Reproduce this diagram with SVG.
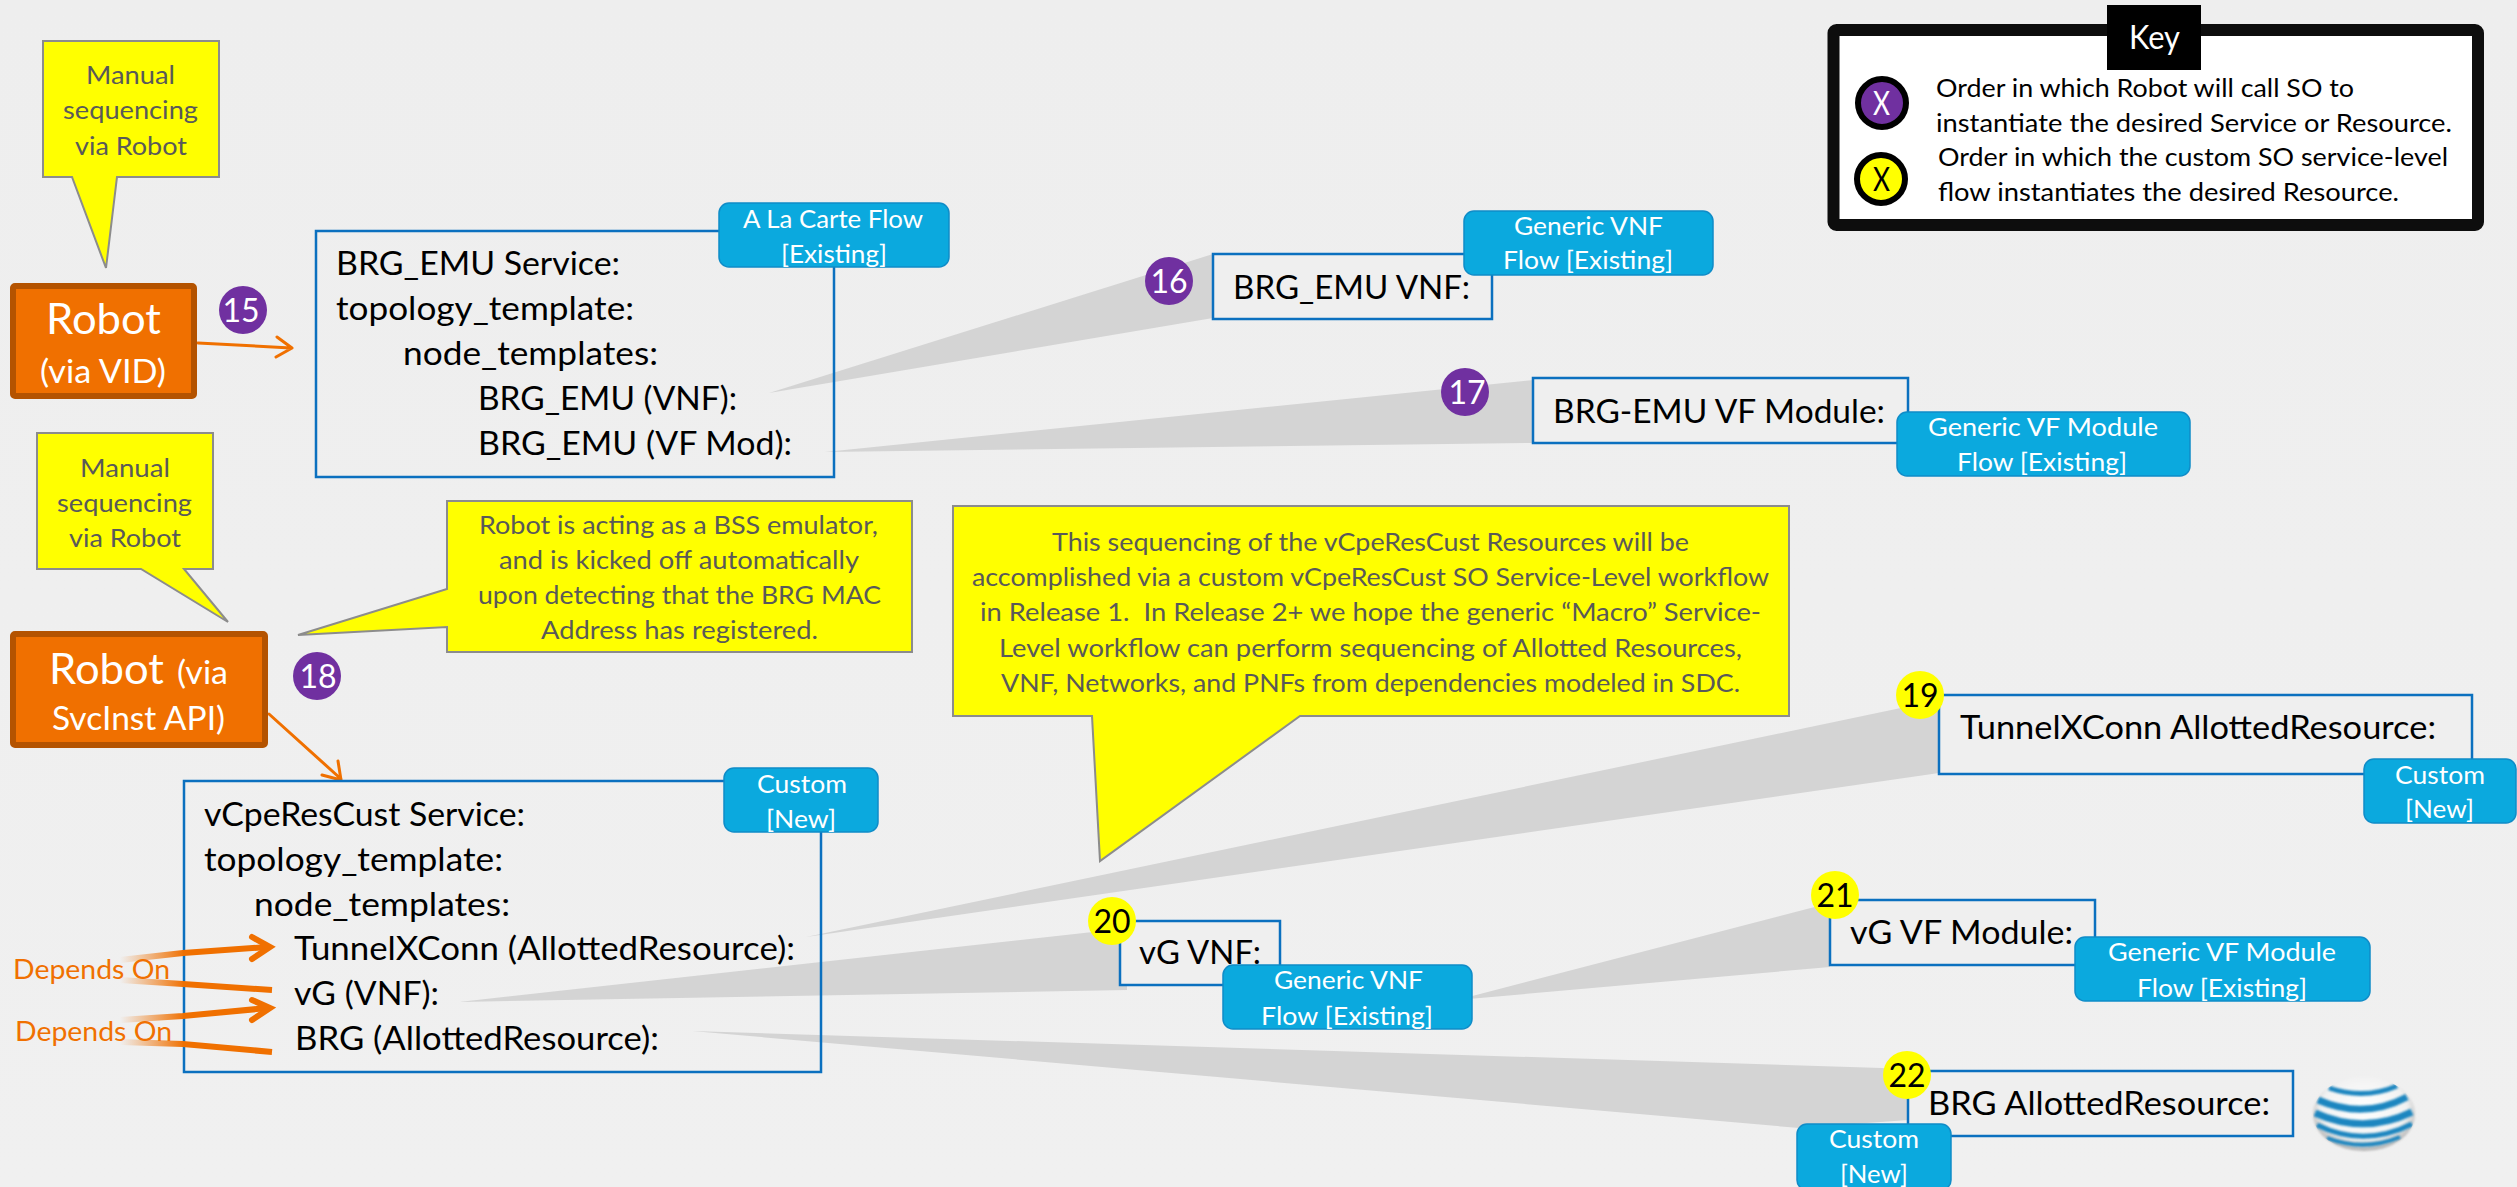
<svg xmlns="http://www.w3.org/2000/svg" width="2517" height="1187" viewBox="0 0 2517 1187">
<style>
text{font-family:Lato,"Liberation Sans",sans-serif}
.m{font-size:32px;fill:#000}
.c{font-size:25px;fill:#595959}
.t{font-size:25px;fill:#fff}
.k{font-size:25px;fill:#000}
.d{font-size:27px;fill:#F07000}
.w{fill:#D4D4D4}
.box{fill:#EFEFEF;stroke:#0B70BF;stroke-width:2.5}
.svc{fill:none;stroke:#0B70BF;stroke-width:2.5}
.tag{fill:#0BA9DE;stroke:#0F8CC8;stroke-width:1.5}
.call{fill:#FF0;stroke:#8C8C8C;stroke-width:2}
.rob{fill:#F07000;stroke:#B45300;stroke-width:6}
.pur{fill:#7030A0}
.yel{fill:#FF0}
.nw{font-size:32px;fill:#fff}
.nb{font-size:32px;fill:#000}
.arr{fill:none;stroke:#F07000;stroke-width:3;stroke-linecap:round;stroke-linejoin:round}
.dep{fill:none;stroke-width:6}
.head{fill:none;stroke:#F07000;stroke-width:6;stroke-linecap:round;stroke-linejoin:miter}
.st{fill:none;stroke:#1F86C0}
</style>
<defs>
<linearGradient id="bg" x1="0" y1="0" x2="0" y2="1"><stop offset="0" stop-color="#EEEEEE"/><stop offset="1" stop-color="#F0F0F0"/></linearGradient>
<linearGradient id="fade" gradientUnits="userSpaceOnUse" x1="120" y1="0" x2="185" y2="0"><stop offset="0" stop-color="#F07000" stop-opacity="0"/><stop offset="1" stop-color="#F07000"/></linearGradient>
<radialGradient id="globe" cx="0.5" cy="0.42" r="0.6"><stop offset="0" stop-color="#FFFFFF"/><stop offset="0.7" stop-color="#F2F2F2"/><stop offset="1" stop-color="#A8A8A8"/></radialGradient>
<clipPath id="gc"><ellipse cx="2364" cy="1114" rx="51" ry="37"/></clipPath>
<filter id="soft" x="-10%" y="-10%" width="120%" height="120%"><feGaussianBlur stdDeviation="0.8"/></filter>
</defs>
<rect width="2517" height="1187" fill="url(#bg)"/>

<g id="connectors">
<polygon class="w" points="769,393 1213,254 1213,318"/>
<polygon class="w" points="825,452 1533,380 1533,443"/>
<polygon class="w" points="806,937 1939,700 1939,773"/>
<polygon class="w" points="459,1002 1120,929 1120,980 1127,980 1127,990"/>
<polygon class="w" points="1457,1000 1830,903 1830,967"/>
<polygon class="w" points="692,1031 1882,1068 1908,1070 1908,1120 1799,1128"/>
<path class="arr" d="M198,343 L291,348 M277,337 L292,348 L276,357"/>
<path class="arr" d="M269,714 L341,779 M338,761 L341,780 L322,775"/>
</g>

<g id="callout-manual-1">
<polygon class="call" points="43,41 219,41 219,177 117,177 106,268 72,177 43,177"/>
<text class="c" x="86" y="84" textLength="89" lengthAdjust="spacingAndGlyphs">Manual</text>
<text class="c" x="63" y="119" textLength="135" lengthAdjust="spacingAndGlyphs">sequencing</text>
<text class="c" x="75" y="155" textLength="112" lengthAdjust="spacingAndGlyphs">via Robot</text>
</g>
<g id="callout-manual-2">
<polygon class="call" points="37,433 213,433 213,569 184,569 228,622 141,569 37,569"/>
<text class="c" x="80" y="477" textLength="90" lengthAdjust="spacingAndGlyphs">Manual</text>
<text class="c" x="57" y="512" textLength="135" lengthAdjust="spacingAndGlyphs">sequencing</text>
<text class="c" x="69" y="547" textLength="112" lengthAdjust="spacingAndGlyphs">via Robot</text>
</g>
<g id="callout-bss">
<polygon class="call" points="447,501 912,501 912,652 447,652 447,627 298,635 447,589"/>
<text class="c" x="479" y="534" textLength="399" lengthAdjust="spacingAndGlyphs">Robot is acting as a BSS emulator,</text>
<text class="c" x="499" y="569" textLength="360" lengthAdjust="spacingAndGlyphs">and is kicked off automatically</text>
<text class="c" x="478" y="604" textLength="403" lengthAdjust="spacingAndGlyphs">upon detecting that the BRG MAC</text>
<text class="c" x="541" y="639" textLength="277" lengthAdjust="spacingAndGlyphs">Address has registered.</text>
</g>
<g id="callout-sequencing">
<polygon class="call" points="953,506 1789,506 1789,716 1300,716 1100,861 1092,716 953,716"/>
<text class="c" x="1052" y="551" textLength="637" lengthAdjust="spacingAndGlyphs">This sequencing of the vCpeResCust Resources will be</text>
<text class="c" x="972" y="586" textLength="797" lengthAdjust="spacingAndGlyphs">accomplished via a custom vCpeResCust SO Service-Level workflow</text>
<text class="c" x="980" y="621" textLength="781" lengthAdjust="spacingAndGlyphs" xml:space="preserve">in Release 1.  In Release 2+ we hope the generic “Macro” Service-</text>
<text class="c" x="999" y="657" textLength="743" lengthAdjust="spacingAndGlyphs">Level workflow can perform sequencing of Allotted Resources,</text>
<text class="c" x="1001" y="692" textLength="739" lengthAdjust="spacingAndGlyphs">VNF, Networks, and PNFs from dependencies modeled in SDC.</text>
</g>

<g id="robot-vid">
<rect class="rob" x="13" y="286" width="181" height="110" rx="2"/>
<text x="46" y="334" font-size="42" fill="#fff" textLength="115" lengthAdjust="spacingAndGlyphs">Robot</text>
<text x="40" y="383" font-size="32" fill="#fff" textLength="126" lengthAdjust="spacingAndGlyphs">(via VID)</text>
</g>
<g id="robot-svcinst">
<rect class="rob" x="13" y="634" width="252" height="111" rx="2"/>
<text x="49" y="684" font-size="42" fill="#fff" textLength="115" lengthAdjust="spacingAndGlyphs">Robot</text>
<text x="177" y="684" font-size="32" fill="#fff" textLength="51" lengthAdjust="spacingAndGlyphs">(via</text>
<text x="52" y="730" font-size="32" fill="#fff" textLength="173" lengthAdjust="spacingAndGlyphs">SvcInst API)</text>
</g>

<g id="svc-brg-emu">
<rect class="svc" x="316" y="231" width="518" height="246"/>
<rect class="tag" x="719" y="203" width="230" height="64" rx="10"/>
<text class="t" x="743" y="228" textLength="180" lengthAdjust="spacingAndGlyphs">A La Carte Flow</text>
<text class="t" x="781" y="263" textLength="106" lengthAdjust="spacingAndGlyphs">[Existing]</text>
<text class="m" x="336" y="275" textLength="284" lengthAdjust="spacingAndGlyphs">BRG_EMU Service:</text>
<text class="m" x="336" y="320" textLength="298" lengthAdjust="spacingAndGlyphs">topology_template:</text>
<text class="m" x="403" y="365" textLength="255" lengthAdjust="spacingAndGlyphs">node_templates:</text>
<text class="m" x="478" y="410" textLength="259" lengthAdjust="spacingAndGlyphs">BRG_EMU (VNF):</text>
<text class="m" x="478" y="455" textLength="314" lengthAdjust="spacingAndGlyphs">BRG_EMU (VF Mod):</text>
</g>
<g id="svc-vcpe">
<rect class="svc" x="184" y="781" width="637" height="291"/>
<rect class="tag" x="724" y="768" width="154" height="64" rx="10"/>
<text class="t" x="757" y="793" textLength="90" lengthAdjust="spacingAndGlyphs">Custom</text>
<text class="t" x="766" y="828" textLength="70" lengthAdjust="spacingAndGlyphs">[New]</text>
<text class="m" x="204" y="826" textLength="321" lengthAdjust="spacingAndGlyphs">vCpeResCust Service:</text>
<text class="m" x="204" y="871" textLength="299" lengthAdjust="spacingAndGlyphs">topology_template:</text>
<text class="m" x="254" y="916" textLength="256" lengthAdjust="spacingAndGlyphs">node_templates:</text>
<text class="m" x="294" y="960" textLength="501" lengthAdjust="spacingAndGlyphs">TunnelXConn (AllottedResource):</text>
<text class="m" x="294" y="1005" textLength="145" lengthAdjust="spacingAndGlyphs">vG (VNF):</text>
<text class="m" x="295" y="1050" textLength="364" lengthAdjust="spacingAndGlyphs">BRG (AllottedResource):</text>
</g>

<g id="depends">
<path class="dep" stroke="url(#fade)" d="M120,960 L183,953 L268,947"/>
<path class="head" d="M252,937 L270,947 L252,959"/>
<path class="dep" stroke="url(#fade)" d="M120,980 L183,984 L272,990"/>
<path class="dep" stroke="url(#fade)" d="M120,1020 L183,1016 L268,1008"/>
<path class="head" d="M252,1000 L270,1008 L252,1020"/>
<path class="dep" stroke="url(#fade)" d="M120,1042 L183,1044 L272,1052"/>
<text class="d" x="13" y="979" textLength="157" lengthAdjust="spacingAndGlyphs">Depends On</text>
<text class="d" x="15" y="1041" textLength="157" lengthAdjust="spacingAndGlyphs">Depends On</text>
</g>

<g id="res-brg-emu-vnf">
<rect class="box" x="1213" y="254" width="279" height="65"/>
<rect class="tag" x="1464" y="211" width="249" height="64" rx="10"/>
<text class="t" x="1514" y="235" textLength="149" lengthAdjust="spacingAndGlyphs">Generic VNF</text>
<text class="t" x="1503" y="269" textLength="170" lengthAdjust="spacingAndGlyphs">Flow [Existing]</text>
<text class="m" x="1233" y="299" textLength="237" lengthAdjust="spacingAndGlyphs">BRG_EMU VNF:</text>
</g>
<g id="res-brg-emu-vf">
<rect class="box" x="1533" y="378" width="375" height="65"/>
<rect class="tag" x="1897" y="412" width="293" height="64" rx="10"/>
<text class="t" x="1928" y="436" textLength="230" lengthAdjust="spacingAndGlyphs">Generic VF Module</text>
<text class="t" x="1957" y="471" textLength="170" lengthAdjust="spacingAndGlyphs">Flow [Existing]</text>
<text class="m" x="1553" y="423" textLength="332" lengthAdjust="spacingAndGlyphs">BRG-EMU VF Module:</text>
</g>
<g id="res-tunnel">
<rect class="box" x="1939" y="695" width="533" height="79"/>
<rect class="tag" x="2364" y="759" width="152" height="64" rx="10"/>
<text class="t" x="2395" y="784" textLength="90" lengthAdjust="spacingAndGlyphs">Custom</text>
<text class="t" x="2405" y="818" textLength="69" lengthAdjust="spacingAndGlyphs">[New]</text>
<text class="m" x="1960" y="739" textLength="476" lengthAdjust="spacingAndGlyphs">TunnelXConn AllottedResource:</text>
</g>
<g id="res-vg-vnf">
<rect class="box" x="1120" y="921" width="160" height="64"/>
<text class="m" x="1139" y="964" textLength="122" lengthAdjust="spacingAndGlyphs">vG VNF:</text>
<rect class="tag" x="1223" y="965" width="249" height="64" rx="10"/>
<text class="t" x="1274" y="989" textLength="149" lengthAdjust="spacingAndGlyphs">Generic VNF</text>
<text class="t" x="1261" y="1025" textLength="172" lengthAdjust="spacingAndGlyphs">Flow [Existing]</text>
</g>
<g id="res-vg-vf">
<rect class="box" x="1830" y="900" width="265" height="65"/>
<text class="m" x="1850" y="944" textLength="223" lengthAdjust="spacingAndGlyphs">vG VF Module:</text>
<rect class="tag" x="2075" y="937" width="295" height="64" rx="10"/>
<text class="t" x="2108" y="961" textLength="228" lengthAdjust="spacingAndGlyphs">Generic VF Module</text>
<text class="t" x="2137" y="997" textLength="170" lengthAdjust="spacingAndGlyphs">Flow [Existing]</text>
</g>
<g id="res-brg">
<rect class="box" x="1908" y="1071" width="385" height="65"/>
<rect class="tag" x="1797" y="1124" width="154" height="66" rx="10"/>
<text class="t" x="1829" y="1148" textLength="90" lengthAdjust="spacingAndGlyphs">Custom</text>
<text class="t" x="1840" y="1183" textLength="68" lengthAdjust="spacingAndGlyphs">[New]</text>
<text class="m" x="1928" y="1115" textLength="342" lengthAdjust="spacingAndGlyphs">BRG AllottedResource:</text>
</g>

<g id="badge-15"><circle class="pur" cx="243" cy="310" r="24"/><text class="nw" x="241" y="322" text-anchor="middle">15</text></g>
<g id="badge-16"><circle class="pur" cx="1169" cy="281" r="24"/><text class="nw" x="1169" y="293" text-anchor="middle">16</text></g>
<g id="badge-17"><circle class="pur" cx="1465" cy="392" r="24"/><text class="nw" x="1467" y="404" text-anchor="middle">17</text></g>
<g id="badge-18"><circle class="pur" cx="317" cy="676" r="24"/><text class="nw" x="318" y="688" text-anchor="middle">18</text></g>
<g id="badge-19"><circle class="yel" cx="1920" cy="695" r="24"/><text class="nb" x="1920" y="707" text-anchor="middle">19</text></g>
<g id="badge-20"><circle class="yel" cx="1112" cy="921" r="24"/><text class="nb" x="1112" y="933" text-anchor="middle">20</text></g>
<g id="badge-21"><circle class="yel" cx="1835" cy="895" r="24"/><text class="nb" x="1835" y="907" text-anchor="middle">21</text></g>
<g id="badge-22"><circle class="yel" cx="1907" cy="1075" r="24"/><text class="nb" x="1907" y="1087" text-anchor="middle">22</text></g>

<g id="att-logo">
<ellipse cx="2364" cy="1114" rx="51" ry="37" fill="url(#globe)" filter="url(#soft)"/>
<g clip-path="url(#gc)" filter="url(#soft)">
<path class="st" stroke-width="5" d="M2329,1088 Q2364,1100 2397,1086"/>
<path class="st" stroke-width="7" d="M2318,1100 Q2364,1120 2407,1097"/>
<path class="st" stroke-width="7" d="M2315,1113 Q2364,1135 2412,1112"/>
<path class="st" stroke-width="5" d="M2317,1125 Q2364,1148 2412,1124"/>
<path class="st" stroke-width="4" d="M2327,1138 Q2364,1152 2400,1137"/>
</g>
</g>

<g id="key">
<rect x="1833.500" y="30" width="644.500" height="195" rx="3" fill="#fff" stroke="#0D0D0D" stroke-width="12"/>
<rect x="2107" y="5" width="94" height="65" fill="#000"/>
<text x="2129" y="49" font-size="32" fill="#fff" textLength="51" lengthAdjust="spacingAndGlyphs">Key</text>
<circle class="pur" cx="1882" cy="103" r="24" stroke="#000" stroke-width="6"/>
<text x="1873" y="115" font-size="32" fill="#fff" textLength="17" lengthAdjust="spacingAndGlyphs">X</text>
<circle class="yel" cx="1881" cy="179" r="24" stroke="#000" stroke-width="6"/>
<text x="1873" y="191" font-size="32" fill="#000" textLength="17" lengthAdjust="spacingAndGlyphs">X</text>
<text class="k" x="1936" y="97" textLength="418" lengthAdjust="spacingAndGlyphs">Order in which Robot will call SO to</text>
<text class="k" x="1936" y="132" textLength="516" lengthAdjust="spacingAndGlyphs">instantiate the desired Service or Resource.</text>
<text class="k" x="1938" y="166" textLength="510" lengthAdjust="spacingAndGlyphs">Order in which the custom SO service-level</text>
<text class="k" x="1938" y="201" textLength="461" lengthAdjust="spacingAndGlyphs">flow instantiates the desired Resource.</text>
</g>
</svg>
